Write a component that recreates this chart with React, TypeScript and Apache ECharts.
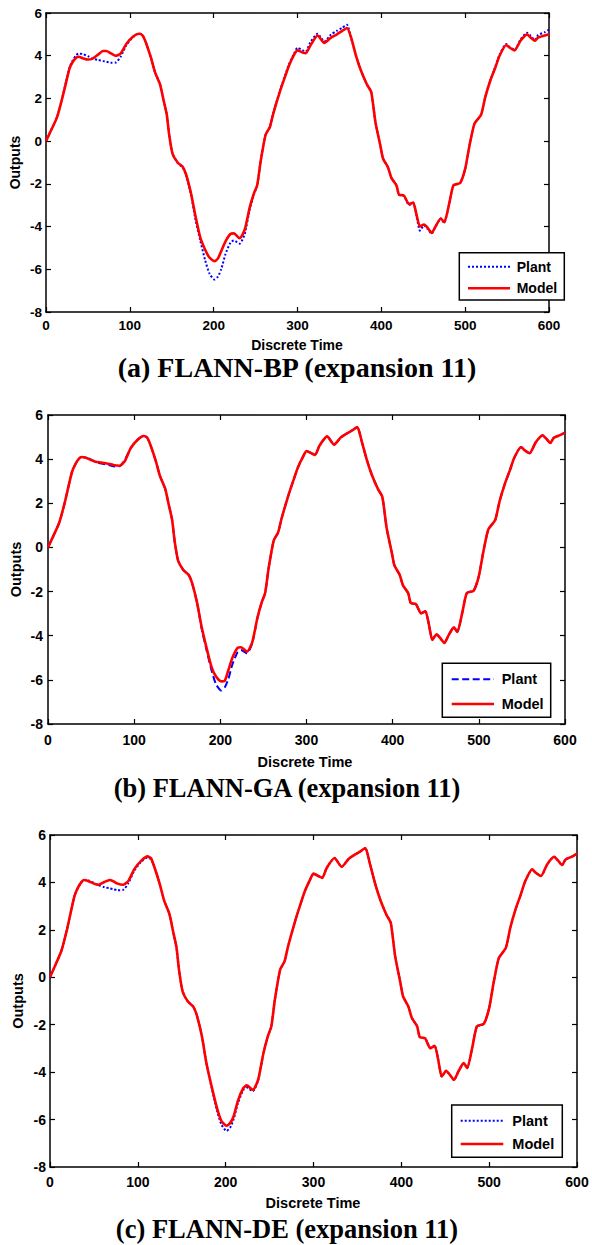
import React, { useEffect, useRef } from "react";
import * as echarts from "echarts";

// Discrete time samples (x values)
const time = [0, 5, 13, 19, 24, 28, 32, 36, 39, 44, 50, 55, 62, 68, 72, 77, 83, 89, 96, 104, 111, 115, 119, 125, 130, 136, 140, 144, 147, 151, 157, 163, 167, 173, 178, 184, 190, 195, 201, 205, 209, 214, 220, 224, 231, 237, 243, 248, 252, 256, 262, 267, 271, 279, 285, 290, 296, 300, 306, 310, 315, 324, 332, 340, 347, 353, 359, 364, 370, 376, 383, 388, 393, 399, 402, 408, 412, 418, 421, 427, 433, 438, 442, 446, 451, 455, 460, 465, 471, 475, 481, 486, 494, 500, 505, 511, 519, 524, 530, 536, 541, 549, 553, 559, 566, 574, 578, 583, 587, 595, 600];

// Plant output
const plant = [0, 0.42, 1.12, 1.96, 2.8, 3.44, 3.79, 4.02, 4.1, 4.08, 3.98, 3.88, 3.8, 3.75, 3.72, 3.67, 3.68, 3.95, 4.5, 4.88, 5.05, 4.98, 4.63, 3.93, 3.23, 2.66, 1.96, 1.26, 0.28, -0.6, -1.02, -1.23, -1.58, -2.5, -3.62, -4.65, -5.6, -6.2, -6.48, -6.35, -6.0, -5.3, -4.75, -4.65, -4.8, -4.35, -3.2, -2.49, -2.07, -0.95, 0.32, 0.67, 1.3, 2.36, 3.06, 3.62, 4.11, 4.37, 4.26, 4.19, 4.61, 5.03, 4.66, 4.99, 5.17, 5.3, 5.45, 4.82, 3.97, 3.27, 2.64, 2.29, 0.88, -0.24, -0.81, -1.23, -1.72, -2.07, -2.52, -2.57, -2.99, -2.89, -3.48, -4.19, -3.94, -4.1, -4.33, -3.97, -3.62, -3.83, -2.92, -2.07, -1.96, -1.3, -0.24, 0.81, 1.24, 2.08, 2.86, 3.49, 4.05, 4.55, 4.41, 4.27, 4.76, 5.08, 4.94, 4.73, 4.97, 5.1, 5.22];

// Model output, FLANN-BP
const modelBP = [0, 0.42, 1.1, 1.95, 2.75, 3.4, 3.72, 3.9, 3.95, 3.88, 3.82, 3.85, 4.05, 4.22, 4.22, 4.12, 4.0, 4.1, 4.56, 4.9, 5.03, 4.96, 4.63, 3.93, 3.23, 2.66, 1.96, 1.26, 0.28, -0.6, -1.0, -1.2, -1.55, -2.45, -3.45, -4.5, -5.1, -5.45, -5.62, -5.5, -5.15, -4.7, -4.35, -4.32, -4.55, -4.15, -3.1, -2.45, -2.05, -0.95, 0.3, 0.65, 1.28, 2.32, 3.0, 3.55, 4.05, 4.25, 4.15, 4.12, 4.45, 4.95, 4.6, 4.85, 5.0, 5.15, 5.3, 4.85, 3.97, 3.27, 2.64, 2.29, 0.88, -0.24, -0.81, -1.23, -1.72, -2.07, -2.5, -2.55, -2.95, -2.88, -3.45, -4.0, -3.9, -4.05, -4.3, -3.97, -3.62, -3.8, -2.92, -2.07, -1.96, -1.3, -0.24, 0.81, 1.24, 2.06, 2.84, 3.45, 4.0, 4.5, 4.38, 4.25, 4.7, 5.0, 4.85, 4.7, 4.85, 4.95, 5.0];

// Model output, FLANN-GA
const modelGA = [0, 0.42, 1.12, 1.96, 2.8, 3.44, 3.79, 4.02, 4.1, 4.06, 3.96, 3.88, 3.85, 3.8, 3.78, 3.72, 3.7, 3.9, 4.5, 4.88, 5.05, 4.98, 4.63, 3.93, 3.23, 2.66, 1.96, 1.26, 0.28, -0.6, -1.02, -1.23, -1.58, -2.5, -3.55, -4.55, -5.45, -5.85, -6.07, -6.05, -5.6, -5.0, -4.55, -4.52, -4.72, -4.3, -3.2, -2.49, -2.07, -0.95, 0.32, 0.67, 1.3, 2.36, 3.06, 3.62, 4.11, 4.37, 4.26, 4.19, 4.61, 5.03, 4.66, 4.99, 5.17, 5.3, 5.45, 4.82, 3.97, 3.27, 2.64, 2.29, 0.88, -0.24, -0.81, -1.23, -1.72, -2.07, -2.52, -2.57, -2.99, -2.89, -3.48, -4.19, -3.94, -4.1, -4.33, -3.97, -3.62, -3.83, -2.92, -2.07, -1.96, -1.3, -0.24, 0.81, 1.24, 2.08, 2.86, 3.49, 4.05, 4.55, 4.41, 4.27, 4.76, 5.08, 4.94, 4.73, 4.97, 5.1, 5.2];

// Model output, FLANN-DE
const modelDE = [0, 0.42, 1.12, 1.96, 2.8, 3.44, 3.79, 4.02, 4.1, 4.05, 3.95, 3.9, 4.02, 4.1, 4.05, 3.95, 3.9, 4.05, 4.56, 4.92, 5.1, 5.02, 4.63, 3.93, 3.23, 2.66, 1.96, 1.26, 0.28, -0.6, -1.02, -1.23, -1.58, -2.5, -3.6, -4.6, -5.5, -6.05, -6.26, -6.15, -5.87, -5.2, -4.68, -4.56, -4.75, -4.32, -3.2, -2.49, -2.07, -0.95, 0.32, 0.67, 1.3, 2.36, 3.06, 3.62, 4.11, 4.37, 4.26, 4.19, 4.61, 5.03, 4.66, 4.99, 5.17, 5.3, 5.45, 4.82, 3.97, 3.27, 2.64, 2.29, 0.88, -0.24, -0.81, -1.23, -1.72, -2.07, -2.52, -2.57, -2.99, -2.89, -3.48, -4.19, -3.94, -4.1, -4.33, -3.97, -3.62, -3.83, -2.92, -2.07, -1.96, -1.3, -0.24, 0.81, 1.24, 2.08, 2.86, 3.49, 4.05, 4.55, 4.41, 4.27, 4.76, 5.08, 4.94, 4.73, 4.97, 5.1, 5.22];

const xTicks = { min: 0, max: 600, interval: 100 };
const yTicks = { min: -8, max: 6, interval: 2 };
const titles = ["(a) FLANN-BP (expansion 11)", "(b) FLANN-GA (expansion 11)", "(c) FLANN-DE (expansion 11)"];
const xName = "Discrete Time";
const yName = "Outputs";
const legendNames = ["Plant", "Model"];

const SANS = '"Liberation Sans", Arial, sans-serif';
const SERIF = '"Liberation Serif", "Times New Roman", serif';

const panels = [
  {
    model: modelBP, dash: [2, 2],
    grid: { left: 46, top: 13, width: 503, height: 299 },
    tickSize: 13.5, xMargin: 6.5, yMargin: 4,
    titleX: 297, titleY: 367, titleSize: 28,
    xNameX: 297, xNameY: 345, yNameX: 15.3, nameSize: 14,
    lg: { x: 459.3, y: 252.7, w: 105, h: 47.3, l1: 468, l2: 510, py: 266.7, my: 288.3, tx: 516.7, fs: 14 },
  },
  {
    model: modelGA, dash: [7, 3.5],
    grid: { left: 48, top: 415, width: 517, height: 309 },
    tickSize: 14, xMargin: 9, yMargin: 5,
    titleX: 287, titleY: 788.3, titleSize: 26.5,
    xNameX: 305, xNameY: 761.7, yNameX: 15.8, nameSize: 14.5,
    lg: { x: 442.3, y: 663.3, w: 108.4, h: 54, l1: 451.7, l2: 494, py: 679.3, my: 704, tx: 501.7, fs: 14.5 },
  },
  {
    model: modelDE, dash: [2, 2],
    grid: { left: 50, top: 835, width: 527, height: 332 },
    tickSize: 14, xMargin: 7.5, yMargin: 4,
    titleX: 287, titleY: 1228.5, titleSize: 26.5,
    xNameX: 313, xNameY: 1202.7, yNameX: 17.5, nameSize: 14.5,
    lg: { x: 451.7, y: 1105, w: 110.6, h: 52.3, l1: 460.7, l2: 503.3, py: 1120.7, my: 1144, tx: 512.3, fs: 14.5 },
  },
];

function buildOption() {
  const grid: any[] = [];
  const xAxis: any[] = [];
  const yAxis: any[] = [];
  const series: any[] = [];
  const graphic: any[] = [];
  const plantData = time.map((t, i) => [t, plant[i]]);

  panels.forEach((p, i) => {
    grid.push({ ...p.grid, containLabel: false });
    const axLine = { show: true, onZero: false, lineStyle: { color: "#000", width: 1.5 } };
    const tick = { show: true, inside: true, length: 5, lineStyle: { color: "#000", width: 1.2 } };
    const lbl = (m: number) => ({
      show: true, margin: m, color: "#000", fontSize: p.tickSize, fontWeight: "bold", fontFamily: SANS,
    });
    xAxis.push({ type: "value", gridIndex: i, position: "bottom", ...xTicks, axisLine: axLine, axisTick: tick, axisLabel: lbl(p.xMargin), splitLine: { show: false } });
    xAxis.push({ type: "value", gridIndex: i, position: "top", ...xTicks, axisLine: axLine, axisTick: tick, axisLabel: { show: false }, splitLine: { show: false } });
    yAxis.push({ type: "value", gridIndex: i, position: "left", ...yTicks, axisLine: axLine, axisTick: tick, axisLabel: lbl(p.yMargin), splitLine: { show: false } });
    yAxis.push({ type: "value", gridIndex: i, position: "right", ...yTicks, axisLine: axLine, axisTick: tick, axisLabel: { show: false }, splitLine: { show: false } });

    series.push({
      type: "line", name: legendNames[0], xAxisIndex: 2 * i, yAxisIndex: 2 * i,
      data: plantData, showSymbol: false, symbol: "none", smooth: 0.2,
      lineStyle: { color: "#0000ff", width: 2, type: p.dash },
    });
    series.push({
      type: "line", name: legendNames[1], xAxisIndex: 2 * i, yAxisIndex: 2 * i,
      data: time.map((t, k) => [t, p.model[k]]), showSymbol: false, symbol: "none", smooth: 0.2,
      lineStyle: { color: "#ff0000", width: 2.6 },
    });

    // title
    graphic.push({
      type: "text", x: p.titleX, y: p.titleY, z: 100,
      style: { text: titles[i], fontSize: p.titleSize, fontWeight: "bold", fontFamily: SERIF, fill: "#000", align: "center", verticalAlign: "middle", textAlign: "center", textVerticalAlign: "middle" },
    });
    // axis names
    graphic.push({
      type: "text", x: p.xNameX, y: p.xNameY, z: 100,
      style: { text: xName, fontSize: p.nameSize, fontWeight: "bold", fontFamily: SANS, fill: "#000", align: "center", verticalAlign: "middle", textAlign: "center", textVerticalAlign: "middle" },
    });
    graphic.push({
      type: "text", x: p.yNameX, y: p.grid.top + p.grid.height / 2, rotation: Math.PI / 2, z: 100,
      style: { text: yName, fontSize: p.nameSize, fontWeight: "bold", fontFamily: SANS, fill: "#000", align: "center", verticalAlign: "middle", textAlign: "center", textVerticalAlign: "middle" },
    });
    // legend
    const lg = p.lg;
    graphic.push({
      type: "rect", z: 100, shape: { x: lg.x, y: lg.y, width: lg.w, height: lg.h },
      style: { fill: "#fff", stroke: "#000", lineWidth: 1.5 },
    });
    graphic.push({
      type: "line", z: 101, shape: { x1: lg.l1, y1: lg.py, x2: lg.l2, y2: lg.py },
      style: { stroke: "#0000ff", lineWidth: 2, lineDash: p.dash },
    });
    graphic.push({
      type: "line", z: 101, shape: { x1: lg.l1, y1: lg.my, x2: lg.l2, y2: lg.my },
      style: { stroke: "#ff0000", lineWidth: 2.6 },
    });
    [lg.py, lg.my].forEach((yy, k) => {
      graphic.push({
        type: "text", x: lg.tx, y: yy, z: 101,
        style: { text: legendNames[k], fontSize: lg.fs, fontWeight: "bold", fontFamily: SANS, fill: "#000", align: "left", verticalAlign: "middle", textAlign: "left", textVerticalAlign: "middle" },
      });
    });
  });

  return { animation: false, backgroundColor: "#fff", grid, xAxis, yAxis, series, graphic };
}

export default function App() {
  const ref = useRef<HTMLDivElement>(null);
  useEffect(() => {
    if (!ref.current) return;
    const chart = echarts.init(ref.current, undefined, { renderer: "svg" });
    chart.setOption(buildOption() as any);
    return () => chart.dispose();
  }, []);
  return (
    <div
      ref={ref}
      style={{ position: "absolute", left: 0, top: 0, width: 592, height: 1245, background: "#fff" }}
    />
  );
}
